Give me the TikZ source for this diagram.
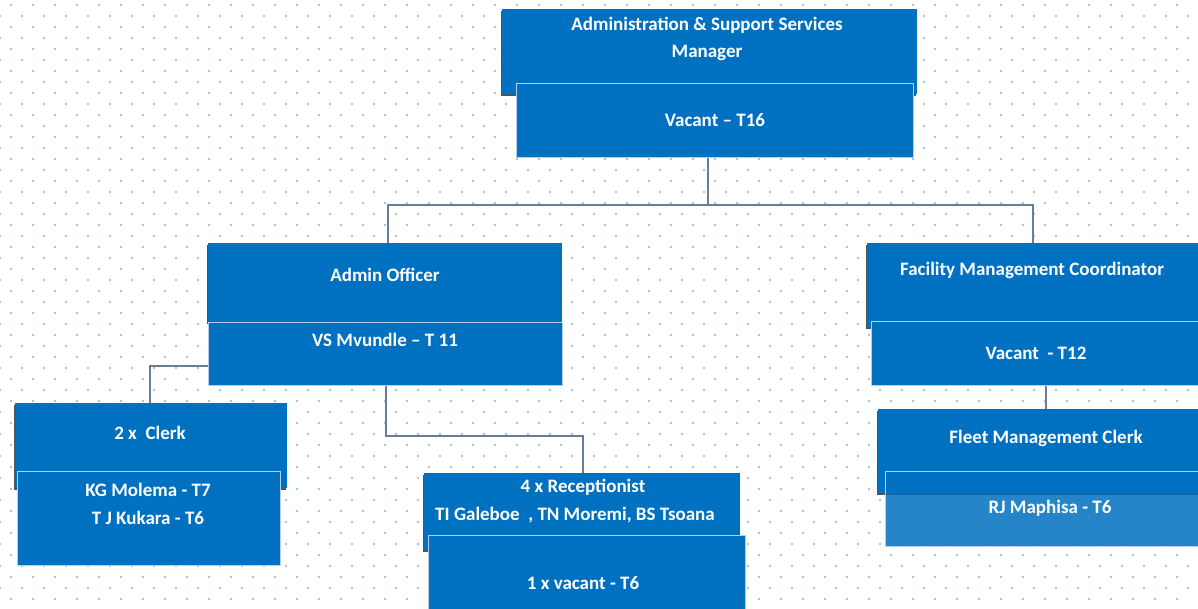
\documentclass[tikz,border=0pt]{standalone}
\usepackage{fontspec}
\setmainfont{Carlito}
\usetikzlibrary{shadows}
\definecolor{boxblue}{RGB}{0,112,192}
\definecolor{dotc}{RGB}{140,174,214}
\definecolor{linec}{RGB}{105,125,150}
\definecolor{edgec}{RGB}{185,205,232}
\begin{document}
\begin{tikzpicture}[x=1pt,y=-1pt,
  backbox/.style={fill=boxblue, draw=none, anchor=north west, inner sep=0pt,
    drop shadow={shadow xshift=-1.5pt, shadow yshift=-1.5pt, fill=black!75, opacity=0.9}},
  frontbox/.style={fill=boxblue, draw=edgec, line width=0.9pt, anchor=north west, inner sep=0pt},
  lbl/.style={text=white, font=\fontsize{19}{22}\selectfont\bfseries, inner sep=0pt},
  conn/.style={draw=linec, line width=1.8pt}]
\useasboundingbox (0,0) rectangle (1198,609);
\clip (0,0) rectangle (1198,609);
\fill[white] (0,0) rectangle (1198,609);
% dotted background
\foreach \r in {0,...,55}{
  \pgfmathsetmacro{\yy}{5+11*\r}
  \pgfmathsetmacro{\xo}{mod(\r,2)==0 ? 11 : 0}
  \foreach \c in {0,...,55}{
    \fill[dotc] (\xo+22*\c,\yy) circle (1.15pt);
  }
}
% junction coordinates
\coordinate (j1) at (708,205);
\coordinate (jl) at (388,205);
\coordinate (jr) at (1033,205);
\coordinate (ja) at (150,366);
\coordinate (jb) at (386,436);
\coordinate (jc) at (583,436);
\coordinate (jd) at (1046,400);

% boxes
\node[backbox, minimum width=415pt, minimum height=85pt] (topB) at (502,9) {};
\node[frontbox, minimum width=397pt, minimum height=74pt] (topF) at (516,83) {};
\node[backbox, minimum width=354pt, minimum height=79pt] (admB) at (208,243) {};
\node[frontbox, minimum width=354pt, minimum height=63pt] (admF) at (208,322) {};
\node[backbox, minimum width=345pt, minimum height=84pt] (facB) at (867,243) {};
\node[frontbox, minimum width=345pt, minimum height=64pt] (facF) at (871,321) {};
\node[backbox, minimum width=272pt, minimum height=85pt] (clkB) at (15,403) {};
\node[frontbox, minimum width=263pt, minimum height=94pt] (clkF) at (17,471) {};
\node[backbox, minimum width=316pt, minimum height=77pt] (recB) at (424,473) {};
\node[frontbox, minimum width=317pt, minimum height=80pt] (recF) at (428,535) {};
\node[backbox, minimum width=330pt, minimum height=84pt] (flB) at (878,409) {};
\node[frontbox, fill opacity=0.85, minimum width=330pt, minimum height=75pt] (flF) at (885,471) {};

% connectors
\draw[conn] (j1 |- topF.south) -- (j1);
\draw[conn] (jl |- admB.north) -- (jl) -- (jr) -- (jr |- facB.north);
\draw[conn] (admF.west |- ja) -- (ja) -- (ja |- clkB.north);
\draw[conn] (jb |- admF.south) -- (jb) -- (jc) -- (jc |- recB.north);
\draw[conn] (jd |- facF.south) -- (jd |- flB.north);

% labels
\node[lbl] (t1) at (707,25) {Administration \& Support Services};
\node[lbl] (t2) at (707,53) {Manager};
\node[lbl] (t3) at (715,120) {Vacant – T16};
\node[lbl] (t4) at (385,275) {Admin Officer};
\node[lbl] (t5) at (385,340) {VS Mvundle – T 11};
\node[lbl] (t6) at (1032,270) {Facility Management Coordinator};
\node[lbl] (t7) at (1036,353) {Vacant\ \ - T12};
\node[lbl] (t8) at (150,433) {2 x\ \ Clerk};
\node[lbl] (t9) at (148,490) {KG Molema - T7};
\node[lbl] (t10) at (148,518) {T J Kukara - T6};
\node[lbl] (t11) at (583,487) {4 x Receptionist};
\node[lbl] (t12) at (575,515) {TI Galeboe\ \ , TN Moremi, BS Tsoana};
\node[lbl] (t13) at (583,583) {1 x vacant - T6};
\node[lbl] (t14) at (1046,438) {Fleet Management Clerk};
\node[lbl] (t15) at (1050,508) {RJ Maphisa - T6};
\end{tikzpicture}
\end{document}
